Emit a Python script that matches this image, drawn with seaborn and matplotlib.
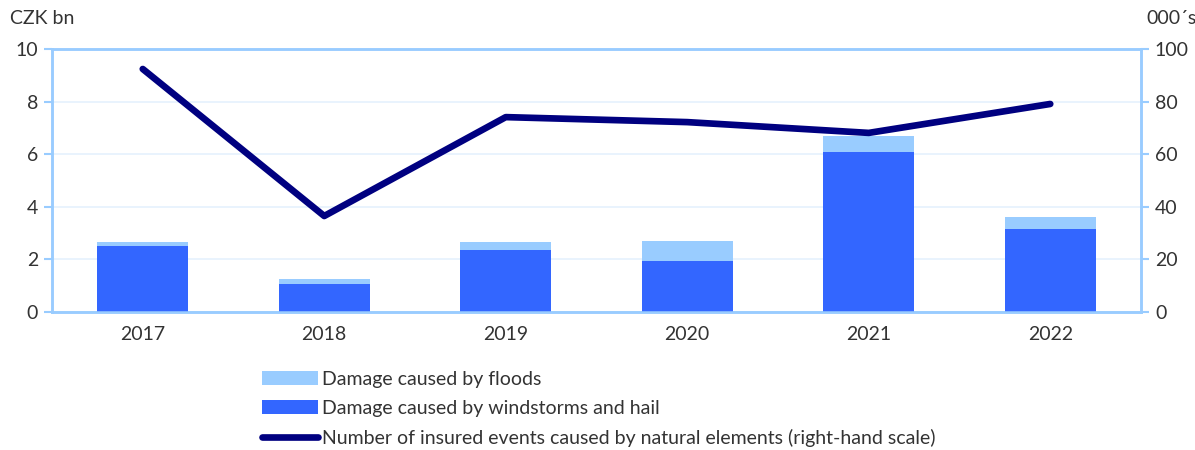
import numpy as np
import pandas as pd
import matplotlib
matplotlib.use("Agg")
import matplotlib.pyplot as plt
import seaborn as sns
from matplotlib.patches import Patch
from matplotlib.lines import Line2D

years = ["2017", "2018", "2019", "2020", "2021", "2022"]
windstorms = [2.51, 1.06, 2.36, 1.94, 6.08, 3.16]
floods = [0.15, 0.19, 0.30, 0.76, 0.61, 0.45]
events = [92.4, 36.5, 74.1, 72.2, 68.1, 79.1]

labels = ["Damage caused by floods",
          "Damage caused by windstorms and hail",
          "Number of insured events caused by natural elements (right-hand scale)"]

c_flood = "#99CCFF"
c_wind = "#3366FF"
c_line = "#000080"
c_axis = "#99CCFF"
c_grid = "#E5F1FD"
c_text = "#333333"
fs = 14

sns.set_theme(style="white")
plt.rcParams["font.family"] = ["Lato", "DejaVu Sans"]

df = pd.DataFrame({"year": years, "wind": windstorms, "flood": floods, "events": events})
df["total"] = df["wind"] + df["flood"]

fig = plt.figure(figsize=(11.95, 4.5), dpi=100)
ax = fig.add_axes([52/1195, 1-312/450, (1141-52)/1195, (312-49)/450])

sns.barplot(data=df, x="year", y="total", color=c_flood, width=0.5, ax=ax,
            saturation=1, edgecolor="none", linewidth=0, zorder=2)
sns.barplot(data=df, x="year", y="wind", color=c_wind, width=0.5, ax=ax,
            saturation=1, edgecolor="none", linewidth=0, zorder=3)

ax.set_xlim(-0.5, 5.5)
ax.set_ylim(0, 10)
ax.set_yticks(np.arange(0, 11, 2))
ax.yaxis.grid(True, color=c_grid, linewidth=1.2, zorder=0)
ax.set_axisbelow(True)
ax.set_xlabel("")
ax.set_ylabel("")
ax.set_xticks(np.arange(len(years)))
ax.set_xticklabels(years)
ax.set_xticks(np.arange(-0.5, len(years)), minor=True)
ax.tick_params(axis="x", which="major", length=0, pad=10, labelsize=fs, labelcolor=c_text)
ax.tick_params(axis="x", which="minor", length=6, width=1.5, color=c_axis, direction="out")
ax.tick_params(axis="y", length=6, width=1.5, color=c_axis, direction="out", left=True,
               labelsize=fs, labelcolor=c_text, pad=4)
for s in ax.spines.values():
    s.set_color(c_axis)
    s.set_linewidth(1.8)

ax2 = ax.twinx()
sns.lineplot(data=df, x="year", y="events", color=c_line, linewidth=4.8, ax=ax2,
             solid_capstyle="round", zorder=5)
ax2.set_ylim(0, 100)
ax2.set_yticks(np.arange(0, 101, 20))
ax2.set_ylabel("")
ax2.set_xlabel("")
ax2.tick_params(axis="y", length=6, width=1.5, color=c_axis, direction="out", right=True,
                labelsize=fs, labelcolor=c_text, pad=4)
for s in ax2.spines.values():
    s.set_color(c_axis)
    s.set_linewidth(1.8)
ax.set_xlim(-0.5, 5.5)

fig.text(10/1195, 1-19/450, "CZK bn", fontsize=fs, color=c_text, va="center", ha="left")
fig.text(1146/1195, 1-19/450, "000´s", fontsize=fs, color=c_text, va="center", ha="left")

handles = [Patch(facecolor=c_flood, edgecolor="none"),
           Patch(facecolor=c_wind, edgecolor="none"),
           Line2D([0], [0], color=c_line, linewidth=4.8, solid_capstyle="round")]
leg = fig.legend(handles, labels, loc="upper left", bbox_to_anchor=(262/1195, 1-371/450),
                 frameon=False, fontsize=fs, handlelength=2.9, handleheight=0.7,
                 handletextpad=0.2, labelspacing=0.62, borderaxespad=0, borderpad=0)
for t in leg.get_texts():
    t.set_color(c_text)

fig.savefig("out.png", dpi=100)
